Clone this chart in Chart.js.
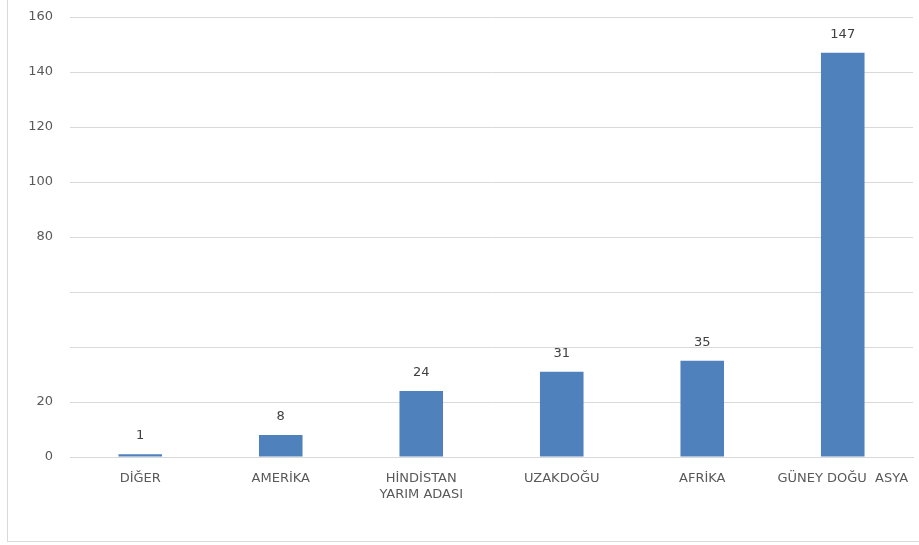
<!DOCTYPE html>
<html>
<head>
<meta charset="utf-8">
<script src="https://cdn.jsdelivr.net/npm/chart.js@4"></script>
<style>
  html, body { margin: 0; padding: 0; background: #fff; overflow: hidden; }
  #wrap { position: relative; width: 919px; height: 545px; }
  #frame { position: absolute; left: 7px; top: -1px; width: 960px; height: 543px; border: 1px solid #d9d9d9; box-sizing: border-box; }
  canvas { position: absolute; left: 0; top: 0; }
</style>
</head>
<body>
<div id="wrap">
  <div id="frame"></div>
  <canvas id="chart" width="919" height="545"></canvas>
</div>
<script>
const regions = ['DİĞER', 'AMERİKA', ['HİNDİSTAN', 'YARIM ADASI'], 'UZAKDOĞU', 'AFRİKA', 'GÜNEY DOĞU  ASYA'];
const counts = [1, 8, 24, 31, 35, 147];
const hiddenTicks = [40, 60];

const FONT = '"DejaVu Sans", Verdana, sans-serif';

// value labels above each bar
const valueLabels = {
  id: 'valueLabels',
  afterDatasetsDraw(chart) {
    const ctx = chart.ctx;
    const meta = chart.getDatasetMeta(0);
    ctx.save();
    ctx.font = '13px ' + FONT;
    ctx.fillStyle = '#404040';
    ctx.textAlign = 'center';
    ctx.textBaseline = 'bottom';
    meta.data.forEach((bar, i) => {
      ctx.fillText(counts[i], bar.x, bar.y - 12);
    });
    ctx.restore();
  }
};

new Chart(document.getElementById('chart').getContext('2d'), {
  type: 'bar',
  data: {
    labels: regions,
    datasets: [{
      data: counts,
      backgroundColor: '#4f81bd',
      categoryPercentage: 1,
      barPercentage: 0.31
    }]
  },
  options: {
    responsive: false,
    animation: false,
    layout: { padding: { top: 17, right: 6, left: 0, bottom: 0 } },
    plugins: { legend: { display: false }, tooltip: { enabled: false } },
    scales: {
      x: {
        grid: { display: false, drawTicks: false },
        border: { color: '#d9d9d9' },
        ticks: { color: '#595959', font: { size: 13, family: FONT }, padding: 14, maxRotation: 0, autoSkip: false },
        afterFit(s) { s.height = 88; s.paddingLeft = 0; s.paddingRight = 0; }
      },
      y: {
        min: 0,
        max: 160,
        grid: { color: '#d9d9d9', drawTicks: false },
        border: { display: false },
        ticks: {
          stepSize: 20,
          color: '#595959',
          font: { size: 13, family: FONT },
          padding: 17,
          callback: v => hiddenTicks.includes(v) ? '' : v
        },
        afterFit(s) { s.width = 70; s.paddingTop = 0; s.paddingBottom = 0; }
      }
    }
  },
  plugins: [valueLabels]
});
</script>
</body>
</html>
